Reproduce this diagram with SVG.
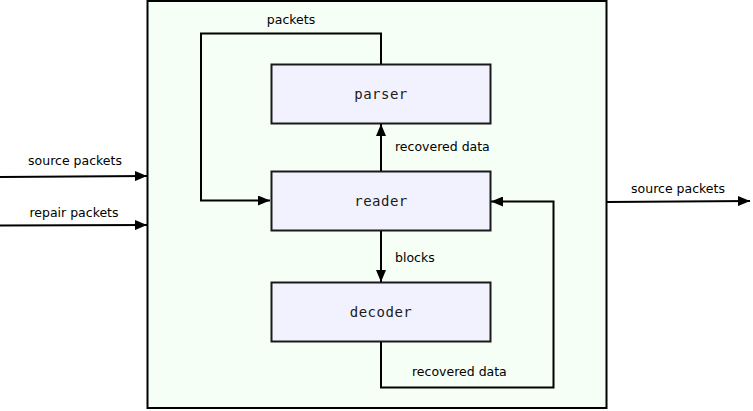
<svg xmlns="http://www.w3.org/2000/svg" width="753" height="411" viewBox="0 0 753 411">
<style>
.node rect{fill:#f2f2fe;stroke:#1a1a1a;stroke-width:2}
.node text{font-family:"DejaVu Sans Mono",monospace;font-size:14px;fill:#1a1a1a;text-anchor:middle;letter-spacing:0.5px}
.lbl{font-family:"DejaVu Sans",sans-serif;font-size:12.5px;fill:#000}
.edge{fill:none;stroke:#000;stroke-width:2}
</style>
<defs>
<marker id="ah" viewBox="0 0 12 10" refX="12" refY="5" markerWidth="12" markerHeight="10" markerUnits="userSpaceOnUse" orient="auto">
<path d="M0,0 L12,5 L0,10 Z" fill="#000"/>
</marker>
</defs>
<g id="container">
<rect x="147.5" y="1" width="459" height="407" fill="#f5fff5" stroke="#000" stroke-width="2"/>
</g>
<g id="parser" class="node">
<rect x="271.5" y="64.5" width="219" height="59"/>
<text x="381" y="99">parser</text>
</g>
<g id="reader" class="node">
<rect x="271.5" y="171.5" width="219" height="59"/>
<text x="381" y="206">reader</text>
</g>
<g id="decoder" class="node">
<rect x="271.5" y="282.5" width="219" height="59"/>
<text x="381" y="317">decoder</text>
</g>
<g id="connectors">
<path class="edge" d="M381,64 V33.5 H201 V200.5 H270" marker-end="url(#ah)"/>
<text class="lbl" x="291" y="24" text-anchor="middle">packets</text>
<path class="edge" d="M381,171 V124" marker-end="url(#ah)"/>
<text class="lbl" x="395" y="151">recovered data</text>
<path class="edge" d="M381,231 V282" marker-end="url(#ah)"/>
<text class="lbl" x="395" y="262">blocks</text>
<path class="edge" d="M381,342 V387.5 H553.5 V201.5 H491" marker-end="url(#ah)"/>
<text class="lbl" x="412" y="376">recovered data</text>
<path class="edge" d="M0,177 L147,176" marker-end="url(#ah)"/>
<text class="lbl" x="75" y="165" text-anchor="middle">source packets</text>
<path class="edge" d="M0,225.5 L147,225" marker-end="url(#ah)"/>
<text class="lbl" x="74" y="217" text-anchor="middle">repair packets</text>
<path class="edge" d="M607,202 L750,201" marker-end="url(#ah)"/>
<text class="lbl" x="678" y="193" text-anchor="middle">source packets</text>
</g>
</svg>
